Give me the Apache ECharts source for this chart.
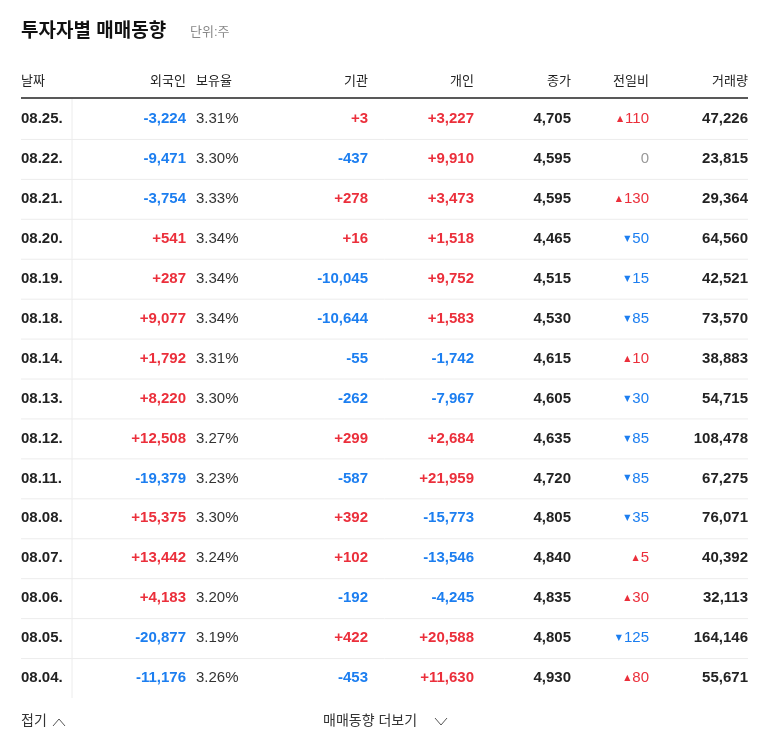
<!DOCTYPE html><html><head><meta charset="utf-8">
<script src="https://cdn.jsdelivr.net/npm/echarts@6/dist/echarts.min.js"></script>
<style>body{margin:0;background:#fff}#c{width:768px;height:749px}</style></head><body><div id="c"></div>
<script>
const dates=['08.25.','08.22.','08.21.','08.20.','08.19.','08.18.','08.14.','08.13.','08.12.','08.11.','08.08.','08.07.','08.06.','08.05.','08.04.'];
const foreign=[-3224,-9471,-3754,541,287,9077,1792,8220,12508,-19379,15375,13442,4183,-20877,-11176];
const holding=[3.31,3.30,3.33,3.34,3.34,3.34,3.31,3.30,3.27,3.23,3.30,3.24,3.20,3.19,3.26];
const inst=[3,-437,278,16,-10045,-10644,-55,-262,299,-587,392,102,-192,422,-453];
const indiv=[3227,9910,3473,1518,9752,1583,-1742,-7967,2684,21959,-15773,-13546,-4245,20588,11630];
const close=[4705,4595,4595,4465,4515,4530,4615,4605,4635,4720,4805,4840,4835,4805,4930];
const change=[110,0,130,-50,-15,-85,10,-30,-85,-85,-35,5,30,-125,80];
const volume=[47226,23815,29364,64560,42521,73570,38883,54715,108478,67275,76071,40392,32113,164146,55671];
const headers=['날짜','외국인','보유율','기관','개인','종가','전일비','거래량'];

const RED='#eb2f3b',BLUE='#1c7ef0',DARK='#222',FONT='"Liberation Sans","Noto Sans CJK KR",sans-serif';
const fmt=v=>Math.abs(v).toLocaleString('en-US');
const sgn=v=>v>0?'+'+fmt(v):v<0?'-'+fmt(v):'0';
const col=v=>v>0?RED:v<0?BLUE:'#999';
function t(x,y,text,fill,align,bold,size){return {type:'text',style:{x,y,text,fill,align:align||'right',verticalAlign:'middle',font:(bold?'bold ':'')+(size||15)+'px '+FONT}};}

const chart=echarts.init(document.getElementById('c'));
chart.setOption({
  animation:false,
  grid:{left:0,right:0,top:99,bottom:51},
  xAxis:{type:'value',min:0,max:768,show:false},
  yAxis:{type:'category',data:dates,inverse:true,show:false},
  series:[{type:'custom',data:dates.map((d,i)=>[0,i]),
    renderItem:(params,api)=>{
      const i=api.value(1);const y=api.coord([0,i])[1];const h=api.size([0,1])[1];
      const c=change[i];
      const ch=c===0?{type:'text',style:{x:649,y,text:'0',fill:'#999',align:'right',verticalAlign:'middle',font:'15px '+FONT}}:
        {type:'text',style:{x:649,y,align:'right',verticalAlign:'middle',
          text:'{a|'+(c>0?'▲':'▼')+'}{b|'+fmt(c)+'}',
          rich:{a:{fill:col(c),fontSize:8,fontFamily:'"DejaVu Sans"',padding:[0,2,0,0]},b:{fill:col(c),fontSize:15,fontFamily:FONT}}}};
      const els=[
        t(21,y,dates[i],DARK,'left',true),
        t(186,y,sgn(foreign[i]),col(foreign[i]),'right',true),
        t(196,y,holding[i].toFixed(2)+'%','#333','left'),
        t(368,y,sgn(inst[i]),col(inst[i]),'right',true),
        t(474,y,sgn(indiv[i]),col(indiv[i]),'right',true),
        t(571,y,fmt(close[i]),DARK,'right',true),
        ch,
        t(748,y,fmt(volume[i]),DARK,'right',true),
        {type:'line',shape:{x1:72,y1:y-h/2,x2:72,y2:y+h/2},style:{stroke:'#ececec',lineWidth:1}}
      ];
      if(i<dates.length-1)els.push({type:'line',shape:{x1:21,y1:y+h/2+0.5,x2:748,y2:y+h/2+0.5},style:{stroke:'#ececec',lineWidth:1}});
      return {type:'group',children:els};
    }}],
  graphic:[
    t(21,32,'투자자별 매매동향','#111','left',true,19),
    t(190,32,'단위:주','#888','left',false,13),
    ...headers.map((hd,k)=>t([21,186,196,368,474,571,649,748][k],81,hd,'#222',k===0||k===2?'left':'right',false,13)),
    {type:'line',shape:{x1:21,y1:98,x2:748,y2:98},style:{stroke:'#222',lineWidth:1.5}},
    t(21,721,'접기','#333','left',false,14),
    {type:'polyline',shape:{points:[[53,726],[59,719],[65,726]]},style:{stroke:'#555',lineWidth:1,fill:null}},
    t(323,721,'매매동향 더보기','#333','left',false,14),
    {type:'polyline',shape:{points:[[435,718],[441,725],[447,718]]},style:{stroke:'#555',lineWidth:1,fill:null}}
  ]
});
</script></body></html>
